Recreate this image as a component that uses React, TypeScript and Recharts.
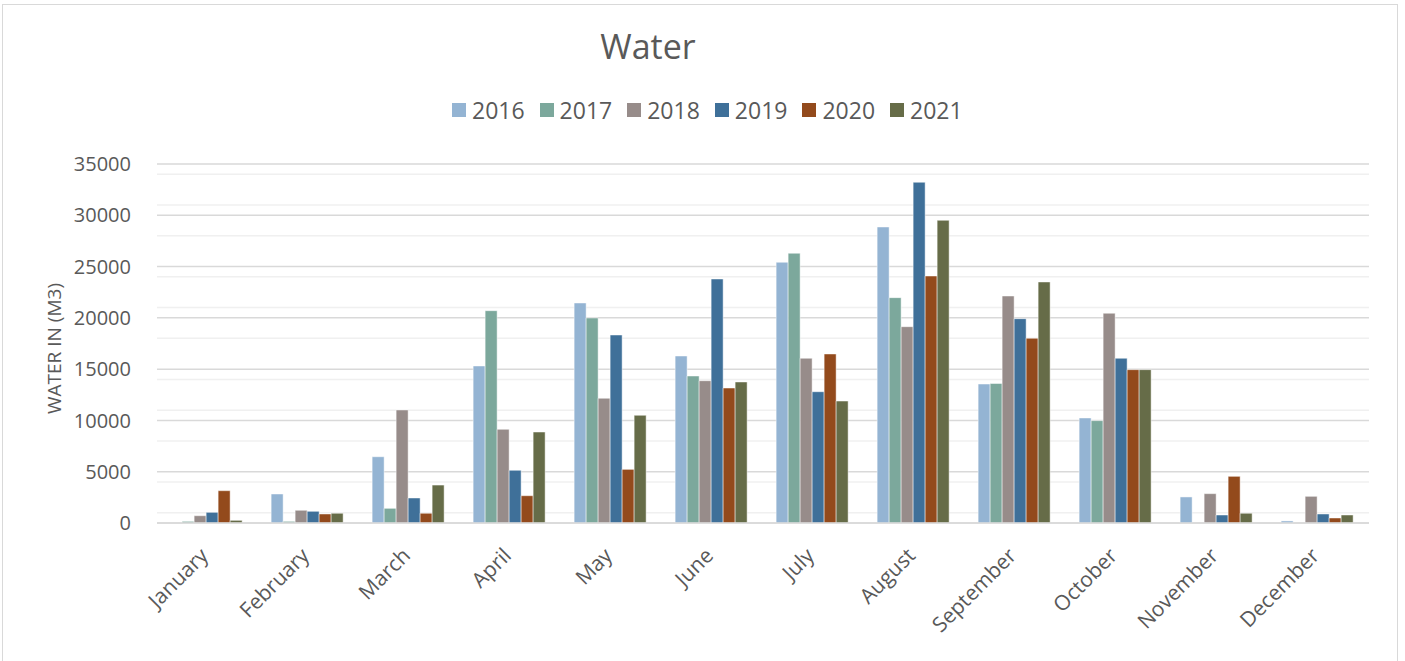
import React from 'react';
import { BarChart, Bar, CartesianGrid, XAxis, YAxis } from 'recharts';

const months = ['January', 'February', 'March', 'April', 'May', 'June', 'July', 'August', 'September', 'October', 'November', 'December'];

const y2016 = [0, 2830, 6460, 15310, 21450, 16280, 25420, 28860, 13550, 10240, 2540, 200];
const y2017 = [160, 160, 1430, 20700, 19990, 14330, 26300, 21970, 13600, 9980, 0, 0];
const y2018 = [710, 1240, 11020, 9130, 12160, 13870, 16060, 19140, 22130, 20450, 2860, 2600];
const y2019 = [1040, 1140, 2440, 5140, 18330, 23790, 12800, 33220, 19920, 16060, 780, 880];
const y2020 = [3150, 880, 950, 2660, 5230, 13160, 16480, 24080, 18010, 14950, 4550, 490];
const y2021 = [260, 950, 3700, 8870, 10500, 13750, 11890, 29510, 23500, 14950, 950, 780];

const majorTicks = [0, 5000, 10000, 15000, 20000, 25000, 30000, 35000];
const minorTicks = [1000, 2000, 3000, 4000, 6000, 7000, 8000, 9000, 11000, 12000, 13000, 14000, 16000, 17000, 18000, 19000, 21000, 22000, 23000, 24000, 26000, 27000, 28000, 29000, 31000, 32000, 33000, 34000];

const series = [
  { key: 'y2016', name: '2016', color: '#94B4D3', values: y2016 },
  { key: 'y2017', name: '2017', color: '#7CA89C', values: y2017 },
  { key: 'y2018', name: '2018', color: '#978C8A', values: y2018 },
  { key: 'y2019', name: '2019', color: '#3F7099', values: y2019 },
  { key: 'y2020', name: '2020', color: '#934A1C', values: y2020 },
  { key: 'y2021', name: '2021', color: '#666C48', values: y2021 },
];

const data = months.map((month, i) => {
  const row: Record<string, string | number> = { month };
  series.forEach((s) => { row[s.key] = s.values[i]; });
  return row;
});

const FONT = '"Open Sans", "Noto Sans", sans-serif';
const TEXT = '#595959';

const MonthTick = (props: any) => {
  const { x, y, payload } = props;
  const tx = x + 2;
  const ty = y + 26;
  return (
    <text x={tx} y={ty} transform={`rotate(-45, ${tx}, ${ty})`} textAnchor="end" fill={TEXT} fontSize={21} fontFamily={FONT}>
      {payload.value}
    </text>
  );
};

const YLabel = (props: any) => {
  const vb = props.viewBox;
  const cy = vb.y + vb.height / 2 + 5;
  return (
    <text x={54} y={cy} transform={`rotate(-90, 54, ${cy})`} textAnchor="middle" dominantBaseline="central" fill={TEXT} fontSize={19} fontFamily={FONT}>
      WATER IN (M3)
    </text>
  );
};

export default function App() {
  return (
    <div style={{ position: 'absolute', left: 0, top: 0, width: 1405, height: 661, background: '#fff', fontFamily: FONT, overflow: 'hidden' }}>
      <div style={{ position: 'absolute', left: 2, top: 4, width: 1396, height: 670, border: '1.5px solid #d9d9d9', boxSizing: 'border-box' }} />
      <div style={{ position: 'absolute', left: 0, width: 1296, top: 24, textAlign: 'center', fontSize: 34, color: TEXT, lineHeight: '44px' }}>
        Water
      </div>
      <div style={{ position: 'absolute', left: 452, top: 94, display: 'flex', alignItems: 'center', fontSize: 23, color: TEXT, lineHeight: '32px' }}>
        {series.map((s) => (
          <div key={s.key} style={{ display: 'flex', alignItems: 'center', marginRight: 15 }}>
            <span style={{ display: 'inline-block', width: 14, height: 14, background: s.color, marginRight: 6 }} />
            <span>{s.name}</span>
          </div>
        ))}
      </div>
      <div style={{ position: 'absolute', left: 0, top: 0 }}>
        <BarChart width={1405} height={661} data={data} margin={{ top: 164, right: 36, left: 0, bottom: 0 }} barCategoryGap="13%" barGap={0}>
          <CartesianGrid vertical={false} horizontalValues={minorTicks} stroke="#f0f0f0" strokeWidth={1.5} />
          <CartesianGrid vertical={false} horizontalValues={majorTicks} stroke="#d9d9d9" strokeWidth={1.5} />
          <XAxis dataKey="month" height={138} tickLine={false} axisLine={{ stroke: '#d9d9d9', strokeWidth: 1.5 }} tick={<MonthTick />} interval={0} />
          <YAxis width={157} domain={[0, 35000]} ticks={majorTicks} tickLine={false} axisLine={false} tickMargin={20}
            tick={{ fill: TEXT, fontSize: 20, fontFamily: FONT }} label={<YLabel />} />
          {series.map((s) => (
            <Bar key={s.key} dataKey={s.key} name={s.name} fill={s.color} stroke="#ffffff" strokeOpacity={0.6} strokeWidth={0.8} isAnimationActive={false} />
          ))}
        </BarChart>
      </div>
    </div>
  );
}
